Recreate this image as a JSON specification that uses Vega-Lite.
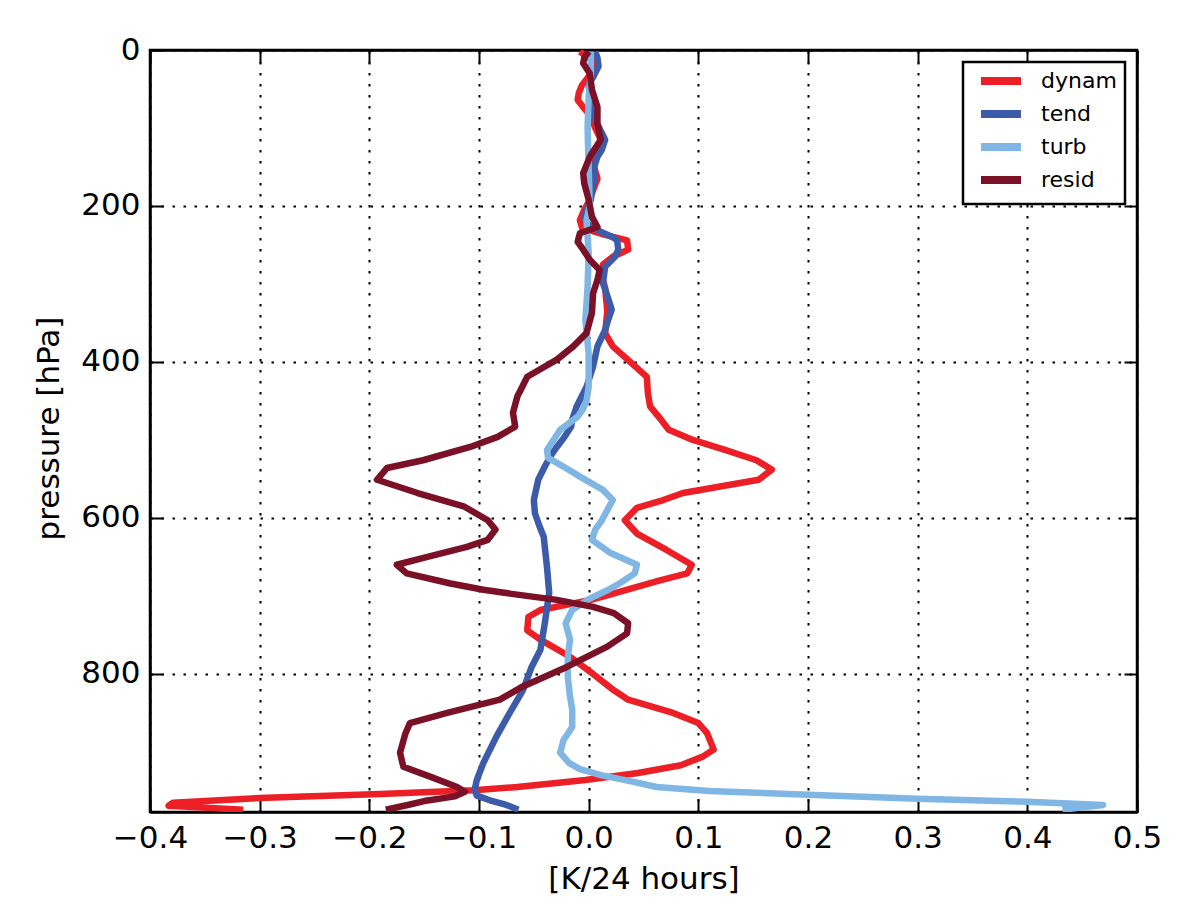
{
  "$schema": "https://vega.github.io/schema/vega-lite/v6.json",
  "width": 987,
  "height": 762,
  "autosize": {"type": "none"},
  "padding": {"left": 150, "top": 50, "right": 63, "bottom": 109},
  "background": "white",
  "datasets": {
    "prof": [
      {"s":"dynam","p":2,"v":-0.008},{"s":"dynam","p":10,"v":0.0},{"s":"dynam","p":17,"v":0.006},{"s":"dynam","p":30,"v":0.002},{"s":"dynam","p":45,"v":-0.006},{"s":"dynam","p":55,"v":-0.009},{"s":"dynam","p":64,"v":-0.010},{"s":"dynam","p":75,"v":-0.004},{"s":"dynam","p":85,"v":0.002},{"s":"dynam","p":100,"v":0.006},{"s":"dynam","p":115,"v":0.011},{"s":"dynam","p":128,"v":0.008},{"s":"dynam","p":140,"v":0.003},{"s":"dynam","p":155,"v":0.006},{"s":"dynam","p":165,"v":0.008},{"s":"dynam","p":180,"v":0.004},{"s":"dynam","p":192,"v":0.001},{"s":"dynam","p":205,"v":-0.004},{"s":"dynam","p":218,"v":-0.008},{"s":"dynam","p":228,"v":-0.006},{"s":"dynam","p":237,"v":0.015},{"s":"dynam","p":244,"v":0.035},{"s":"dynam","p":256,"v":0.036},{"s":"dynam","p":265,"v":0.022},{"s":"dynam","p":275,"v":0.013},{"s":"dynam","p":290,"v":0.012},{"s":"dynam","p":305,"v":0.015},{"s":"dynam","p":335,"v":0.017},{"s":"dynam","p":363,"v":0.015},{"s":"dynam","p":380,"v":0.022},{"s":"dynam","p":400,"v":0.038},{"s":"dynam","p":419,"v":0.053},{"s":"dynam","p":440,"v":0.054},{"s":"dynam","p":457,"v":0.056},{"s":"dynam","p":474,"v":0.066},{"s":"dynam","p":487,"v":0.073},{"s":"dynam","p":500,"v":0.095},{"s":"dynam","p":513,"v":0.125},{"s":"dynam","p":526,"v":0.153},{"s":"dynam","p":538,"v":0.167},{"s":"dynam","p":551,"v":0.155},{"s":"dynam","p":568,"v":0.086},{"s":"dynam","p":577,"v":0.068},{"s":"dynam","p":587,"v":0.044},{"s":"dynam","p":603,"v":0.033},{"s":"dynam","p":620,"v":0.044},{"s":"dynam","p":641,"v":0.071},{"s":"dynam","p":660,"v":0.094},{"s":"dynam","p":671,"v":0.090},{"s":"dynam","p":680,"v":0.065},{"s":"dynam","p":690,"v":0.04},{"s":"dynam","p":698,"v":0.02},{"s":"dynam","p":705,"v":0.002},{"s":"dynam","p":718,"v":-0.044},{"s":"dynam","p":727,"v":-0.055},{"s":"dynam","p":744,"v":-0.056},{"s":"dynam","p":756,"v":-0.044},{"s":"dynam","p":778,"v":-0.017},{"s":"dynam","p":800,"v":0.004},{"s":"dynam","p":821,"v":0.023},{"s":"dynam","p":833,"v":0.036},{"s":"dynam","p":850,"v":0.077},{"s":"dynam","p":863,"v":0.100},{"s":"dynam","p":876,"v":0.108},{"s":"dynam","p":890,"v":0.112},{"s":"dynam","p":897,"v":0.114},{"s":"dynam","p":906,"v":0.104},{"s":"dynam","p":917,"v":0.084},{"s":"dynam","p":927,"v":0.045},{"s":"dynam","p":936,"v":-0.003},{"s":"dynam","p":945,"v":-0.065},{"s":"dynam","p":949,"v":-0.105},{"s":"dynam","p":954,"v":-0.19},{"s":"dynam","p":959,"v":-0.30},{"s":"dynam","p":965,"v":-0.379},{"s":"dynam","p":969,"v":-0.383},{"s":"dynam","p":974,"v":-0.315},
      {"s":"tend","p":2,"v":0.006},{"s":"tend","p":10,"v":0.008},{"s":"tend","p":21,"v":0.009},{"s":"tend","p":35,"v":0.004},{"s":"tend","p":43,"v":0.0},{"s":"tend","p":60,"v":0.001},{"s":"tend","p":73,"v":0.002},{"s":"tend","p":95,"v":0.008},{"s":"tend","p":115,"v":0.015},{"s":"tend","p":128,"v":0.012},{"s":"tend","p":137,"v":0.008},{"s":"tend","p":150,"v":0.005},{"s":"tend","p":166,"v":0.005},{"s":"tend","p":180,"v":0.003},{"s":"tend","p":192,"v":0.002},{"s":"tend","p":205,"v":-0.002},{"s":"tend","p":214,"v":-0.004},{"s":"tend","p":222,"v":-0.002},{"s":"tend","p":231,"v":0.008},{"s":"tend","p":240,"v":0.022},{"s":"tend","p":244,"v":0.026},{"s":"tend","p":256,"v":0.027},{"s":"tend","p":265,"v":0.024},{"s":"tend","p":278,"v":0.015},{"s":"tend","p":299,"v":0.013},{"s":"tend","p":315,"v":0.017},{"s":"tend","p":333,"v":0.021},{"s":"tend","p":345,"v":0.018},{"s":"tend","p":359,"v":0.015},{"s":"tend","p":380,"v":0.008},{"s":"tend","p":406,"v":0.004},{"s":"tend","p":432,"v":-0.002},{"s":"tend","p":457,"v":-0.011},{"s":"tend","p":474,"v":-0.015},{"s":"tend","p":483,"v":-0.016},{"s":"tend","p":496,"v":-0.022},{"s":"tend","p":509,"v":-0.029},{"s":"tend","p":521,"v":-0.035},{"s":"tend","p":534,"v":-0.040},{"s":"tend","p":551,"v":-0.046},{"s":"tend","p":577,"v":-0.050},{"s":"tend","p":594,"v":-0.049},{"s":"tend","p":610,"v":-0.045},{"s":"tend","p":624,"v":-0.041},{"s":"tend","p":663,"v":-0.038},{"s":"tend","p":696,"v":-0.036},{"s":"tend","p":735,"v":-0.040},{"s":"tend","p":769,"v":-0.044},{"s":"tend","p":791,"v":-0.052},{"s":"tend","p":821,"v":-0.060},{"s":"tend","p":850,"v":-0.072},{"s":"tend","p":880,"v":-0.084},{"s":"tend","p":914,"v":-0.096},{"s":"tend","p":936,"v":-0.102},{"s":"tend","p":949,"v":-0.104},{"s":"tend","p":956,"v":-0.102},{"s":"tend","p":962,"v":-0.09},{"s":"tend","p":968,"v":-0.075},{"s":"tend","p":974,"v":-0.064},
      {"s":"turb","p":2,"v":0.002},{"s":"turb","p":30,"v":0.002},{"s":"turb","p":60,"v":0.0},{"s":"turb","p":100,"v":-0.001},{"s":"turb","p":150,"v":0.0},{"s":"turb","p":200,"v":0.001},{"s":"turb","p":218,"v":-0.002},{"s":"turb","p":260,"v":0.0},{"s":"turb","p":304,"v":-0.001},{"s":"turb","p":346,"v":-0.003},{"s":"turb","p":389,"v":0.0},{"s":"turb","p":432,"v":0.0},{"s":"turb","p":450,"v":-0.002},{"s":"turb","p":460,"v":-0.005},{"s":"turb","p":470,"v":-0.01},{"s":"turb","p":487,"v":-0.026},{"s":"turb","p":500,"v":-0.032},{"s":"turb","p":513,"v":-0.038},{"s":"turb","p":523,"v":-0.037},{"s":"turb","p":535,"v":-0.022},{"s":"turb","p":547,"v":-0.008},{"s":"turb","p":564,"v":0.013},{"s":"turb","p":577,"v":0.022},{"s":"turb","p":590,"v":0.017},{"s":"turb","p":603,"v":0.012},{"s":"turb","p":615,"v":0.006},{"s":"turb","p":628,"v":0.003},{"s":"turb","p":645,"v":0.02},{"s":"turb","p":660,"v":0.044},{"s":"turb","p":671,"v":0.042},{"s":"turb","p":684,"v":0.028},{"s":"turb","p":692,"v":0.018},{"s":"turb","p":700,"v":0.006},{"s":"turb","p":705,"v":-0.001},{"s":"turb","p":718,"v":-0.015},{"s":"turb","p":735,"v":-0.021},{"s":"turb","p":756,"v":-0.017},{"s":"turb","p":778,"v":-0.019},{"s":"turb","p":804,"v":-0.019},{"s":"turb","p":829,"v":-0.017},{"s":"turb","p":846,"v":-0.015},{"s":"turb","p":868,"v":-0.015},{"s":"turb","p":885,"v":-0.023},{"s":"turb","p":901,"v":-0.026},{"s":"turb","p":914,"v":-0.018},{"s":"turb","p":922,"v":-0.008},{"s":"turb","p":930,"v":0.012},{"s":"turb","p":938,"v":0.04},{"s":"turb","p":945,"v":0.062},{"s":"turb","p":950,"v":0.11},{"s":"turb","p":955,"v":0.2},{"s":"turb","p":960,"v":0.3},{"s":"turb","p":964,"v":0.4},{"s":"turb","p":968,"v":0.469},{"s":"turb","p":974,"v":0.432},
      {"s":"resid","p":2,"v":0.0},{"s":"resid","p":10,"v":-0.004},{"s":"resid","p":17,"v":-0.005},{"s":"resid","p":30,"v":0.001},{"s":"resid","p":51,"v":0.003},{"s":"resid","p":73,"v":0.008},{"s":"resid","p":94,"v":0.008},{"s":"resid","p":115,"v":0.011},{"s":"resid","p":137,"v":0.001},{"s":"resid","p":158,"v":-0.005},{"s":"resid","p":171,"v":-0.004},{"s":"resid","p":192,"v":0.0},{"s":"resid","p":214,"v":0.003},{"s":"resid","p":227,"v":0.008},{"s":"resid","p":235,"v":-0.008},{"s":"resid","p":246,"v":-0.010},{"s":"resid","p":256,"v":-0.005},{"s":"resid","p":269,"v":0.001},{"s":"resid","p":282,"v":0.010},{"s":"resid","p":295,"v":0.008},{"s":"resid","p":312,"v":0.004},{"s":"resid","p":337,"v":0.003},{"s":"resid","p":363,"v":-0.002},{"s":"resid","p":380,"v":-0.014},{"s":"resid","p":397,"v":-0.029},{"s":"resid","p":410,"v":-0.045},{"s":"resid","p":419,"v":-0.056},{"s":"resid","p":436,"v":-0.062},{"s":"resid","p":444,"v":-0.065},{"s":"resid","p":465,"v":-0.069},{"s":"resid","p":483,"v":-0.067},{"s":"resid","p":496,"v":-0.083},{"s":"resid","p":509,"v":-0.108},{"s":"resid","p":526,"v":-0.151},{"s":"resid","p":536,"v":-0.184},{"s":"resid","p":551,"v":-0.193},{"s":"resid","p":568,"v":-0.156},{"s":"resid","p":585,"v":-0.114},{"s":"resid","p":603,"v":-0.092},{"s":"resid","p":615,"v":-0.085},{"s":"resid","p":628,"v":-0.092},{"s":"resid","p":637,"v":-0.111},{"s":"resid","p":650,"v":-0.147},{"s":"resid","p":660,"v":-0.175},{"s":"resid","p":671,"v":-0.166},{"s":"resid","p":684,"v":-0.126},{"s":"resid","p":692,"v":-0.096},{"s":"resid","p":697,"v":-0.072},{"s":"resid","p":705,"v":-0.029},{"s":"resid","p":714,"v":0.004},{"s":"resid","p":722,"v":0.023},{"s":"resid","p":735,"v":0.036},{"s":"resid","p":748,"v":0.035},{"s":"resid","p":765,"v":0.017},{"s":"resid","p":791,"v":-0.020},{"s":"resid","p":816,"v":-0.060},{"s":"resid","p":833,"v":-0.081},{"s":"resid","p":850,"v":-0.129},{"s":"resid","p":863,"v":-0.163},{"s":"resid","p":876,"v":-0.167},{"s":"resid","p":901,"v":-0.172},{"s":"resid","p":919,"v":-0.169},{"s":"resid","p":932,"v":-0.144},{"s":"resid","p":945,"v":-0.120},{"s":"resid","p":951,"v":-0.113},{"s":"resid","p":957,"v":-0.122},{"s":"resid","p":963,"v":-0.15},{"s":"resid","p":968,"v":-0.165},{"s":"resid","p":974,"v":-0.185}
    ]
  },
  "data": {"name": "prof"},
  "config": {
    "font": "DejaVu Sans",
    "view": {"stroke": "black", "strokeWidth": 2.5},
    "axis": {
      "labelFont": "DejaVu Sans", "labelFontSize": 31, "labelColor": "black",
      "titleFont": "DejaVu Sans", "titleFontSize": 31, "titleFontWeight": "normal", "titleColor": "black",
      "domainColor": "black", "domainWidth": 2.5,
      "tickColor": "black", "tickWidth": 2, "tickSize": -13,
      "gridColor": "black", "gridWidth": 2, "gridDash": [2.5, 8.5], "gridOpacity": 1,
      "labelFlush": false, "labelOverlap": false, "zindex": 1
    },
    "legend": {
      "orient": "top-right", "offset": 12, "title": null,
      "fillColor": "white", "strokeColor": "black", "strokeWidth": 2.5, "padding": 8,
      "labelFont": "DejaVu Sans", "labelFontSize": 22, "labelColor": "black",
      "symbolType": "M-4,0L4,0", "symbolSize": 100, "symbolStrokeWidth": 8,
      "symbolOffset": 19, "labelOffset": 29, "rowPadding": 1, "zindex": 2
    }
  },
  "layer": [
    {
      "mark": {"type": "line", "strokeWidth": 6.5, "strokeJoin": "round", "clip": true},
      "encoding": {
        "x": {
          "field": "v", "type": "quantitative",
          "scale": {"domain": [-0.4, 0.5], "nice": false, "zero": false},
          "axis": {
            "orient": "bottom", "values": [-0.4, -0.3, -0.2, -0.1, 0, 0.1, 0.2, 0.3, 0.4, 0.5],
            "format": ".1f", "grid": true, "labelPadding": 24,
            "title": "[K/24 hours]", "titleX": 493.5, "titleY": 76, "titleBaseline": "alphabetic"
          }
        },
        "y": {
          "field": "p", "type": "quantitative",
          "scale": {"domain": [0, 977], "reverse": true, "nice": false, "zero": false},
          "axis": {
            "orient": "left", "values": [0, 200, 400, 600, 800], "format": "d",
            "grid": true, "labelPadding": 23,
            "title": "pressure [hPa]", "titleX": -85, "titleY": 378, "titleAngle": 270, "titleBaseline": "bottom"
          }
        },
        "color": {
          "field": "s", "type": "nominal",
          "scale": {"domain": ["dynam", "tend", "turb", "resid"], "range": ["#ec1f26", "#3c5caa", "#80b6e3", "#7a1127"]}
        },
        "order": {"field": "p", "type": "quantitative"}
      }
    },
    {
      "mark": {"type": "point", "opacity": 0},
      "encoding": {
        "x": {
          "field": "v", "type": "quantitative",
          "scale": {"domain": [-0.4, 0.5], "nice": false, "zero": false},
          "axis": {"orient": "top", "values": [-0.4, -0.3, -0.2, -0.1, 0, 0.1, 0.2, 0.3, 0.4, 0.5], "labels": false, "grid": false, "title": null}
        },
        "y": {
          "field": "p", "type": "quantitative",
          "scale": {"domain": [0, 977], "reverse": true, "nice": false, "zero": false},
          "axis": {"orient": "right", "values": [0, 200, 400, 600, 800], "labels": false, "grid": false, "title": null}
        }
      }
    }
  ],
  "resolve": {"axis": {"x": "independent", "y": "independent"}}
}
